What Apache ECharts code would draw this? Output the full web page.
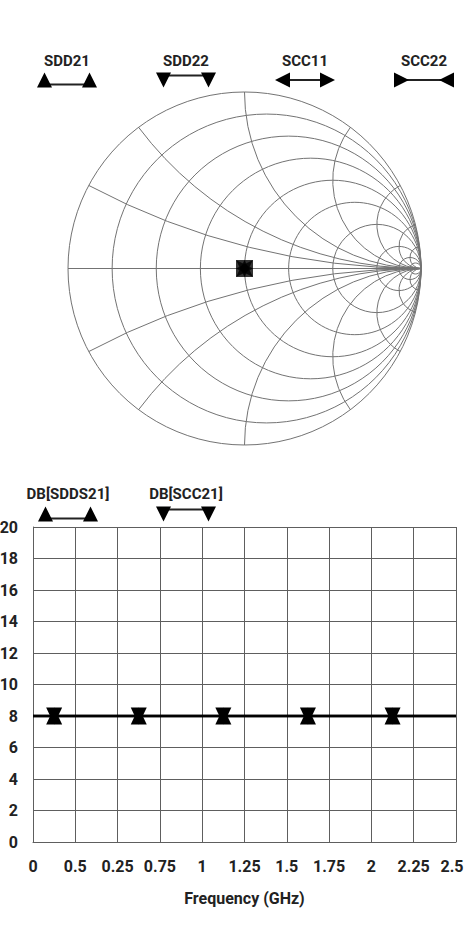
<!DOCTYPE html>
<html>
<head>
<meta charset="utf-8">
<title>Smith chart / transmission</title>
<script src="https://cdn.jsdelivr.net/npm/echarts@6/dist/echarts.min.js"></script>
<style>
  html, body { margin: 0; padding: 0; background: #fff; }
  #main { width: 465px; height: 926px; }
</style>
</head>
<body>
<div id="main"></div>
<script>
// upper plot: the four traces, all sitting at the centre of the Smith chart
const smithNames = ['SDD21', 'SDD22', 'SCC11', 'SCC22'];
const smithRe = [0, 0, 0, 0];
const smithIm = [0, 0, 0, 0];

// Smith grid: constant resistance circles, constant reactance arcs
const gridR = [0, 1 / 7, 1 / 3, 0.6, 1, 5 / 3, 3, 7, 15, 31];
const gridX = [0.25, 0.5, 1, 2, 4, 8, 16];

// lower plot
const dbNames = ['DB[SDDS21]', 'DB[SCC21]'];
const freqGHz = [0, 0.125, 0.625, 1.125, 1.625, 2.125, 2.5];
const dbSdds21 = [8, 8, 8, 8, 8, 8, 8];
const dbScc21 = [8, 8, 8, 8, 8, 8, 8];
const freqTicks = ['0', '0.5', '0.25', '0.75', '1', '1.25', '1.5', '1.75', '2', '2.25', '2.5'];

const FONT = "Roboto, 'Liberation Sans', sans-serif";
const TXT = '#222';
const SMITH_LINE = '#737373';
const GRID_LINE = '#5e5e5e';

// marker shapes
const TRI_UP = 'triangle';
const TRI_DOWN = 'path://M0,0 L2,0 L1,2 Z';
const TRI_LEFT = 'path://M0,1 L2,0 L2,2 Z';
const TRI_RIGHT = 'path://M0,0 L2,1 L0,2 Z';
const smithSymbols = [TRI_UP, TRI_DOWN, TRI_LEFT, TRI_RIGHT];

// legend icons: one triangle at each end of a short line (60 x 15 box)
const ICONS = {
  up:   { tris: [[[0, 15], [7.5, 0], [15, 15]], [[45, 15], [52.5, 0], [60, 15]]], lineY: 12 },
  down: { tris: [[[0, 0], [15, 0], [7.5, 15]], [[45, 0], [60, 0], [52.5, 15]]], lineY: 3 },
  out:  { tris: [[[0, 7.5], [15, 0], [15, 15]], [[60, 7.5], [45, 0], [45, 15]]], lineY: 7.5 },
  in:   { tris: [[[0, 0], [15, 7.5], [0, 15]], [[60, 0], [45, 7.5], [60, 15]]], lineY: 7.5 }
};

// grid arcs as [cx, cy, radius, startAngle, endAngle] in reflection-coefficient space
const smithArcs = gridR.map(r => [r / (1 + r), 0, 1 / (1 + r), 0, 2 * Math.PI]);
gridX.forEach(x => {
  const px = (x * x - 1) / (x * x + 1);
  const py = 2 * x / (x * x + 1);
  let t = Math.atan2(py - 1 / x, px - 1);
  if (t < 0) t += 2 * Math.PI;
  smithArcs.push([1, 1 / x, 1 / x, -1.5 * Math.PI, -t]);
  smithArcs.push([1, -1 / x, 1 / x, t, 1.5 * Math.PI]);
});

function renderArc(params, api) {
  const c = api.coord([api.value(0), api.value(1)]);
  const r = api.size([api.value(2), 0])[0];
  return {
    type: 'arc',
    silent: true,
    shape: { cx: c[0], cy: c[1], r: r, startAngle: api.value(3), endAngle: api.value(4), clockwise: true },
    style: { stroke: SMITH_LINE, lineWidth: 1, fill: 'none' }
  };
}

function traceData(vals, sym) {
  const last = freqGHz.length - 1;
  return freqGHz.map((f, i) => ({
    value: [f, vals[i]],
    symbol: (i === 0 || i === last) ? 'none' : sym
  }));
}

function legendItem(name, cx, textY, iconY, kind) {
  const icon = ICONS[kind];
  const x0 = cx - 30, y0 = iconY - 7.5;
  const children = [
    {
      type: 'text', x: cx, y: textY,
      style: { text: name, fill: TXT, fontSize: 15, fontWeight: 'bold', fontFamily: FONT, align: 'center', verticalAlign: 'middle' }
    },
    {
      type: 'line',
      shape: { x1: x0 + 12, y1: y0 + icon.lineY, x2: x0 + 48, y2: y0 + icon.lineY },
      style: { stroke: '#222', lineWidth: 2 }
    }
  ];
  icon.tris.forEach(t => children.push({
    type: 'polygon',
    shape: { points: t.map(p => [x0 + p[0], y0 + p[1]]) },
    style: { fill: '#000' }
  }));
  return { type: 'group', children: children };
}

const smithIcons = ['up', 'down', 'out', 'in'];
const dbIcons = ['up', 'down'];
const graphics = [];
smithNames.forEach((n, i) => graphics.push(legendItem(n, 67 + 119 * i, 61, 80, smithIcons[i])));
dbNames.forEach((n, i) => graphics.push(legendItem(n, 68 + 118 * i, 494, 514, dbIcons[i])));

const labelStyle = { color: TXT, fontSize: 16, fontWeight: 'bold', fontFamily: FONT };

const series = [
  {
    type: 'custom',
    xAxisIndex: 0, yAxisIndex: 0,
    renderItem: renderArc,
    data: smithArcs,
    encode: { x: 0, y: 1 },
    silent: true,
    z: 1
  },
  {
    type: 'line',
    xAxisIndex: 0, yAxisIndex: 0,
    data: [[-1, 0], [1, 0]],
    symbol: 'none',
    silent: true,
    lineStyle: { color: SMITH_LINE, width: 1 },
    z: 1
  }
];
smithNames.forEach((n, i) => series.push({
  name: n,
  type: 'scatter',
  xAxisIndex: 0, yAxisIndex: 0,
  data: [[smithRe[i], smithIm[i]]],
  symbol: smithSymbols[i],
  symbolSize: 17,
  itemStyle: { color: '#000' },
  z: 5
}));
[dbSdds21, dbScc21].forEach((vals, i) => series.push({
  name: dbNames[i],
  type: 'line',
  xAxisIndex: 1, yAxisIndex: 1,
  data: traceData(vals, i === 0 ? TRI_UP : TRI_DOWN),
  symbolSize: [16, 17],
  showAllSymbol: true,
  itemStyle: { color: '#000' },
  lineStyle: { color: '#000', width: 2.5 },
  z: 5
}));

const chart = echarts.init(document.getElementById('main'), null, { renderer: 'svg' });
chart.setOption({
  animation: false,
  backgroundColor: '#fff',
  textStyle: { fontFamily: FONT },
  graphic: graphics,
  grid: [
    { left: 68, top: 92, width: 353, height: 353, containLabel: false, outerBoundsMode: 'none' },
    { left: 33, top: 527, width: 423, height: 315, containLabel: false, outerBoundsMode: 'none' }
  ],
  xAxis: [
    { gridIndex: 0, type: 'value', min: -1, max: 1, show: false },
    {
      gridIndex: 1, type: 'value', min: 0, max: 2.5, interval: 0.25,
      axisLine: { show: true, lineStyle: { color: GRID_LINE } },
      axisTick: { show: false },
      splitLine: { show: true, lineStyle: { color: GRID_LINE, width: 1 } },
      axisLabel: Object.assign({
        margin: 16,
        showMinLabel: true, showMaxLabel: true,
        formatter: v => {
          const i = Math.round(v / 0.25);
          // last label sits on the right edge of the page, nudge it in a little
          return i === freqTicks.length - 1 ? '{edge|' + freqTicks[i] + '}' : freqTicks[i];
        },
        rich: { edge: Object.assign({ padding: [0, 8, 0, 0] }, labelStyle) }
      }, labelStyle),
      name: 'Frequency (GHz)',
      nameLocation: 'middle',
      nameGap: 48,
      nameTextStyle: Object.assign({}, labelStyle)
    }
  ],
  yAxis: [
    { gridIndex: 0, type: 'value', min: -1, max: 1, show: false },
    {
      gridIndex: 1, type: 'value', min: 0, max: 20, interval: 2,
      axisLine: { show: true, lineStyle: { color: GRID_LINE } },
      axisTick: { show: false },
      splitLine: { show: true, lineStyle: { color: GRID_LINE, width: 1 } },
      axisLabel: Object.assign({ margin: 15 }, labelStyle)
    }
  ],
  series: series
});
</script>
</body>
</html>
